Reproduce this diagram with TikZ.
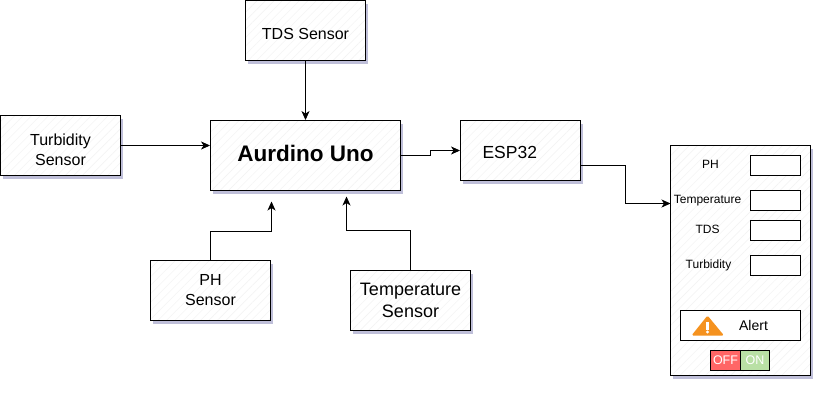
\documentclass[tikz,border=0pt]{standalone}
\usepackage{fontspec}
\setmainfont{Liberation Sans}
\usetikzlibrary{arrows.meta,shadows,patterns.meta}
\definecolor{offred}{HTML}{FF6666}
\definecolor{ongreen}{HTML}{B9E0A5}
\definecolor{alertorange}{HTML}{F5921F}
\newcommand{\downpad}[1]{\rule{0pt}{#1}}
\newcommand{\uppad}[1]{\rule[-#1]{0pt}{#1}}

\begin{document}
\begin{tikzpicture}[
    x=1pt, y=-1pt,
    >={Stealth[length=9pt,width=8pt,inset=2.5pt]},
    line width=0.9pt,
    softshadow/.style={drop shadow={shadow xshift=2.5pt, shadow yshift=-3pt, opacity=0.4, fill=blue!25!gray}},
    block/.style={draw, softshadow, preaction={fill=white}, inner sep=0pt, align=center, minimum width=120pt, minimum height=60pt,
        font=\fontsize{16}{20}\selectfont,
        preaction={pattern={Lines[angle=45,distance=6pt,line width=0.4pt]}, pattern color=black!5}},
    field/.style={draw, fill=white, inner sep=0pt, minimum width=50pt, minimum height=20pt},
    fieldname/.style={inner sep=0pt, font=\fontsize{12}{14}\selectfont},
    toggle/.style={draw, inner sep=0pt, minimum height=20pt, text=white, font=\fontsize{12.5}{14}\selectfont}
]
    \useasboundingbox (-0.5,-0.5) rectangle (821.5,401.5);

    % Sensors
    \node[block] (tds) at (305, 30) {\downpad{19pt}TDS Sensor};
    \node[block] (turbidity) at (60, 145) {\downpad{20pt}Turbidity\\Sensor};
    \node[block] (ph) at (210, 290) {PH\\Sensor};
    \node[block, font=\fontsize{18}{22}\selectfont] (temperature) at (410, 300) {Temperature\\Sensor};

    % Boards
    \node[block, minimum width=190pt, minimum height=70pt, font=\fontsize{22.5}{28}\selectfont\bfseries] (uno) at (305, 155) {\uppad{4.6pt}Aurdino Uno};
    \node[block, text width=120pt, align=left, font=\fontsize{17.5}{22}\selectfont] (esp) at (520, 150) {\hspace*{22pt}\downpad{17pt}ESP32};

    % Dashboard
    \node[block, minimum width=140pt, minimum height=230pt] (panel) at (740, 260) {};

    \node[fieldname] (phname) at (710, 164) {PH};
    \node[field] (phfield) at (775, 165) {};
    \node[fieldname] (tempname) at (707, 200) {Temperature};
    \node[field] (tempfield) at (775, 200) {};
    \node[fieldname] (tdsname) at (707, 229) {TDS};
    \node[field] (tdsfield) at (775, 230) {};
    \node[fieldname] (turbname) at (708, 265) {Turbidity};
    \node[field] (turbfield) at (775, 265) {};

    % Alert
    \node[field, minimum width=120pt, minimum height=30pt] (alert) at (740, 325) {};
    \node[inner sep=0pt, font=\fontsize{14}{16}\selectfont] (alerttext) at (753, 325) {Alert};
    \fill[alertorange, rounded corners=1.5pt] (707, 315) -- (723.5, 335) -- (691, 335) -- cycle;
    \fill[white] (705.5, 321) rectangle (708.5, 329);
    \fill[white] (707, 331.5) circle (1.6);

    % Switch
    \node[toggle, fill=offred, minimum width=30pt] (off) at (725, 360) {OFF};
    \node[toggle, fill=ongreen, minimum width=29pt] (on) at (754.5, 360) {ON};

    % Free ends
    \coordinate (phend) at (271, 201);
    \coordinate (tempend) at (346, 196);
    \coordinate (panelin) at (670, 203);

    % Connections
    \draw[->] (tds) -- (uno);
    \draw[->] (turbidity.east) -- (uno.west |- turbidity.east);
    \draw[->] (uno.east |- 0, 155) -- (430, 155) -- (430, 150) -- (esp.west);
    \draw[->] (esp.east |- 0, 165) -- (625, 165) -- (625, 203) -- (panelin);
    \draw[->] (ph.north) -- (210, 231) -- (271, 231) -- (phend);
    \draw[->] (temperature.north) -- (410, 230) -- (346, 230) -- (tempend);
\end{tikzpicture}
\end{document}
